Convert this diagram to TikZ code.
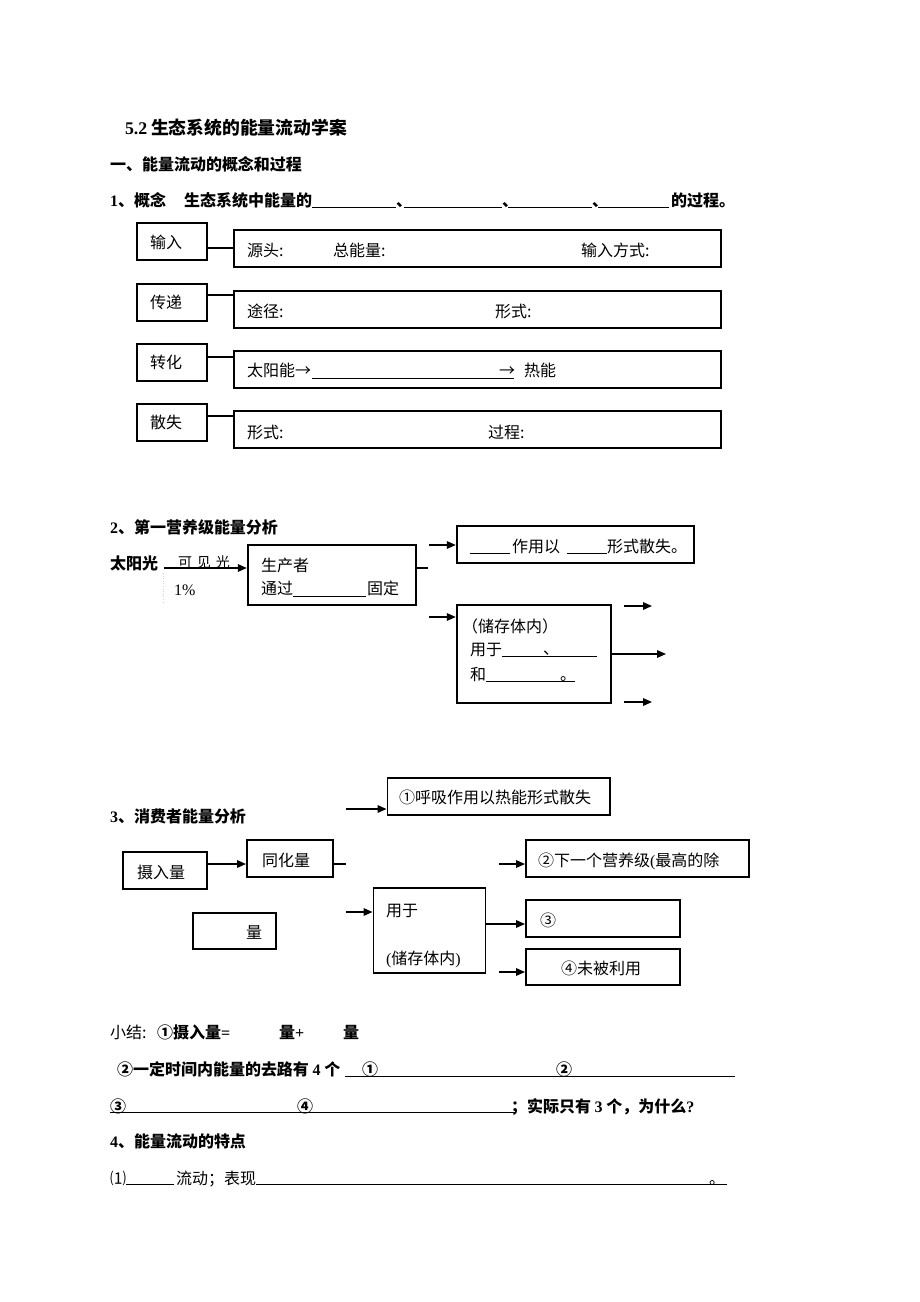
\documentclass[tikz,border=0pt]{standalone}
\usepackage{fontspec}
\setmainfont{Noto Sans CJK SC}
\newfontfamily\tmfont{Liberation Serif}
\newcommand\tm[1]{{\tmfont #1}}
\usetikzlibrary{arrows.meta}
\begin{document}
\begin{tikzpicture}[x=1pt,y=-1pt,
  txt/.style={anchor=west, inner sep=0pt, outer sep=0pt, font=\fontsize{16}{18}\selectfont, text height=14pt, text depth=2pt},
  btxt/.style={txt, font=\fontsize{16}{18}\selectfont\bfseries},
  ttxt/.style={txt, font=\fontsize{17.8}{20}\selectfont\bfseries, text height=15.6pt, text depth=2.2pt},
  stxt/.style={txt, font=\fontsize{14}{16}\selectfont, text height=12.3pt, text depth=1.7pt},
  sbox/.style={draw, line width=1.3pt, inner sep=0pt, minimum width=70pt, minimum height=37pt},
  bbox/.style={draw, line width=2.8pt, inner sep=0pt, minimum width=487pt, minimum height=37pt},
  pbox/.style={draw, line width=2.3pt, inner sep=0pt},
  cbox/.style={draw, line width=1.9pt, inner sep=0pt},
  link/.style={line width=1.3pt},
  arr/.style={line width=1.5pt, -{Triangle[length=9pt,width=7.5pt]}},
  blank/.style={line width=0.9pt}
]
\useasboundingbox (0,0) rectangle (920,1302);
\fill[white] (0,0) rectangle (920,1302);

% ---------- title and section 1 heading ----------
\node[ttxt] (t0) at (125,128) {\tm{5.2}};
\node[ttxt] (t1) at (151,128) {生态系统的能量流动学案};
\node[btxt] (h1) at (110,164) {一、能量流动的概念和过程};
\node[btxt] (l1a) at (110,200) {\tm{1}、概念};
\node[btxt] (l1b) at (184,200) {生态系统中能量的};
\draw[blank] (312,207) -- (396,207);
\draw[blank] (404,207) -- (502,207);
\draw[blank] (508,207) -- (592,207);
\draw[blank] (598,207) -- (669,207);
\node[btxt] (d1) at (396,200) {、};
\node[btxt] (d2) at (502,200) {、};
\node[btxt] (d3) at (592,200) {、};
\node[btxt] (l1c) at (671,200) {的过程。};

% ---------- section 1 boxes ----------
\node[sbox] (s1) at (172,241.5) {};
\node[sbox] (s2) at (172,302.5) {};
\node[sbox] (s3) at (172,362.5) {};
\node[sbox] (s4) at (172,422.5) {};
\node[bbox] (b1) at (477.5,248.5) {};
\node[bbox] (b2) at (477.5,309.5) {};
\node[bbox] (b3) at (477.5,369.5) {};
\node[bbox] (b4) at (477.5,429.5) {};
\coordinate (c1) at (0,248);
\coordinate (c2) at (0,295);
\coordinate (c3) at (0,357);
\coordinate (c4) at (0,416);
\draw[link] (s1.east |- c1) -- (b1.west |- c1);
\draw[link] (s2.east |- c2) -- (b2.west |- c2);
\draw[link] (s3.east |- c3) -- (b3.west |- c3);
\draw[link] (s4.east |- c4) -- (b4.west |- c4);
\node[txt] at (150,242) {输入};
\node[txt] at (150,302) {传递};
\node[txt] at (150,362) {转化};
\node[txt] at (150,422) {散失};
\node[txt] at (247,250) {源头:};
\node[txt] at (333,250) {总能量:};
\node[txt] at (581,250) {输入方式:};
\node[txt] at (247,311) {途径:};
\node[txt] at (495,311) {形式:};
\node[txt] at (247,370) {太阳能→};
\draw[blank] (312,378) -- (514,378);
\node[txt] at (499,370) {→};
\node[txt] at (524,370) {热能};
\node[txt] at (247,432) {形式:};
\node[txt] at (488,432) {过程:};

% ---------- section 2 ----------
\node[btxt] (h2) at (110,527) {\tm{2}、第一营养级能量分析};
\node[btxt] (sun) at (110,563) {太阳光};
\node[stxt] at (178,562) {可\hspace{5pt}见\hspace{5pt}光};
\node[txt] at (174,589) {\tm{1\%}};
\draw[gray!35, line width=0.6pt, dotted] (163,573) -- (163,603);
\node[pbox, minimum width=168pt, minimum height=60pt] (prod) at (332,575) {};
\coordinate (sunarr) at (164,568);
\draw[arr] (sunarr) -- (prod.west |- sunarr);
\node[txt] at (261,565) {生产者};
\node[txt] at (261,588) {通过};
\draw[blank] (293,596) -- (366,596);
\node[txt] at (367,588) {固定};
\coordinate (stub2) at (428,568);
\draw[link] (prod.east |- stub2) -- (stub2);
\node[pbox, minimum width=237pt, minimum height=37pt] (tb) at (575.5,544.5) {};
\node[pbox, minimum width=154pt, minimum height=98pt] (bb) at (534,654) {};
\coordinate (a1) at (429,545);
\coordinate (a2) at (429,617);
\draw[arr] (a1) -- (tb.west |- a1);
\draw[arr] (a2) -- (bb.west |- a2);
\draw[blank] (470,553) -- (510,553);
\node[txt] at (512,546) {作用以};
\draw[blank] (567,553) -- (607,553);
\node[txt] at (607,546) {形式散失。};
\node[txt] at (462,626) {（储存体内）};
\node[txt] at (470,649) {用于};
\draw[blank] (502,656) -- (597,656);
\node[txt] at (543,648) {、};
\node[txt] at (470,674) {和};
\draw[blank] (486,681) -- (575,681);
\node[txt] at (560,674) {。};
\coordinate (o1a) at (624,606);
\coordinate (o1b) at (652,606);
\coordinate (o2b) at (666,654);
\coordinate (o3a) at (624,702);
\coordinate (o3b) at (652,702);
\draw[arr] (o1a) -- (o1b);
\draw[arr] (bb.east |- o2b) -- (o2b);
\draw[arr] (o3a) -- (o3b);

% ---------- section 3 ----------
\node[btxt] (h3) at (110,816) {\tm{3}、消费者能量分析};
\node[cbox, minimum width=222.5pt, minimum height=37pt] (r1) at (498.75,796.5) {};
\node[txt] at (399,797) {①呼吸作用以热能形式散失};
\coordinate (q1) at (346,809);
\draw[arr] (q1) -- (r1.west |- q1);
\node[cbox, minimum width=84pt, minimum height=37pt] (intake) at (165,870.5) {};
\node[txt] at (137,872) {摄入量};
\node[cbox, minimum width=86pt, minimum height=37pt] (assim) at (290,858.5) {};
\node[txt] at (262,860) {同化量};
\coordinate (q2) at (0,864);
\draw[arr] (intake.east |- q2) -- (assim.west |- q2);
\coordinate (stub3) at (346,864);
\draw[link] (assim.east |- stub3) -- (stub3);
\node[cbox, minimum width=223pt, minimum height=37pt] (r2) at (637.5,858.5) {};
\node[txt] at (538,860) {②下一个营养级\tm{(}最高的除};
\coordinate (q3) at (499,864);
\draw[arr] (q3) -- (r2.west |- q3);
\node[cbox, minimum width=83.4pt, minimum height=36pt] (feces) at (234.3,931) {};
\node[txt] at (246,932) {量};
\node[cbox, minimum width=112pt, minimum height=85pt] (use) at (429.5,930.5) {};
\node[txt] at (386,910) {用于};
\node[txt] at (386,958) {\tm{(}储存体内\tm{)}};
\coordinate (q4) at (346,912);
\draw[arr] (q4) -- (use.west |- q4);
\node[cbox, minimum width=154pt, minimum height=37pt] (r3) at (603,918.5) {};
\node[txt] at (540,920) {③};
\coordinate (q5) at (0,924);
\draw[arr] (use.east |- q5) -- (r3.west |- q5);
\node[cbox, minimum width=154pt, minimum height=36pt] (r4) at (603,967) {};
\node[txt, anchor=center] at (601,968) {④未被利用};
\coordinate (q6) at (499,972);
\draw[arr] (q6) -- (r4.west |- q6);

% ---------- summary ----------
\node[txt] at (110,1032) {小结:};
\node[btxt] at (157,1032) {①摄入量\tm{=}};
\node[btxt] at (279,1032) {量\tm{+}};
\node[btxt] at (343,1032) {量};
\node[btxt] at (117,1069) {②一定时间内能量的去路有 \tm{4} 个};
\draw[blank] (345,1076) -- (735,1076);
\node[btxt] at (362,1069) {①};
\node[btxt] at (556,1069) {②};
\node[btxt] at (110,1106) {③};
\draw[blank] (110,1112) -- (515,1112);
\node[btxt] at (297,1106) {④};
\node[btxt] at (511,1106) {；实际只有 \tm{3} 个，为什么\tm{?}};
\node[btxt] at (110,1141) {\tm{4}、能量流动的特点};
\node[txt] at (110,1178) {⑴};
\draw[blank] (126,1184) -- (174,1184);
\node[txt] at (176,1178) {流动；表现};
\draw[blank] (256,1184) -- (727,1184);
\node[txt] at (709,1178) {。};
\end{tikzpicture}
\end{document}
